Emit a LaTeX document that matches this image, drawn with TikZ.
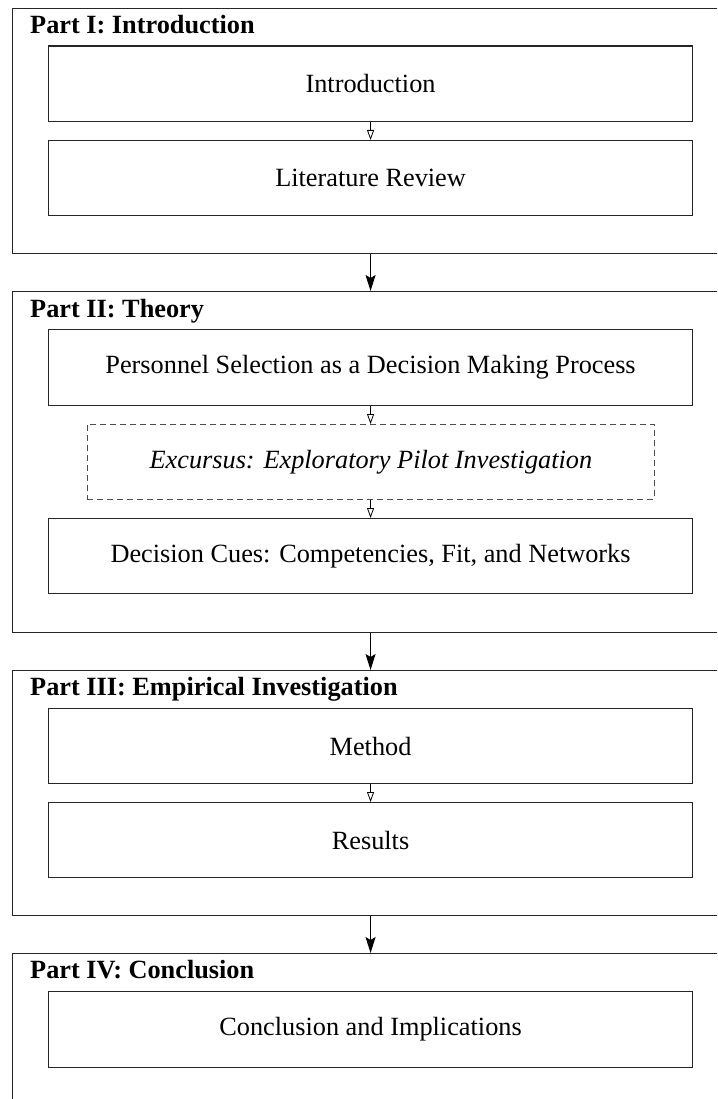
\documentclass[tikz,border=0pt]{standalone}
\usepackage{fontspec}
\setmainfont{Liberation Serif}
\usetikzlibrary{arrows.meta,calc}
\begin{document}
\begin{tikzpicture}[x=1pt,y=-1pt,
  txt/.style={font=\fontsize{26.3}{31}\selectfont},
  partframe/.style={draw=black!85, line width=1.2pt, anchor=north west, inner sep=0pt},
  parttitle/.style={txt, font=\fontsize{26.3}{31}\selectfont\bfseries, anchor=base west, inner sep=0pt},
  chapbox/.style={txt, draw=black!85, line width=1.1pt, anchor=north west, minimum width=644pt, inner sep=0pt},
  excbox/.style={txt, draw=black!70, line width=0.8pt, dash pattern=on 6pt off 4pt, anchor=north west, minimum width=567pt, inner sep=0pt},
  innerarrow/.style={-{Triangle[open,length=10pt,width=7pt]}, line width=0.8pt},
  partarrow/.style={-{Stealth[length=16pt,width=10pt,inset=3pt]}, line width=1.1pt}
]
\useasboundingbox[clip] (0,0) rectangle (717,1099);

% Part frames
\node[partframe, minimum width=728pt, minimum height=245pt] (p1) at (12,8) {};
\node[partframe, minimum width=728pt, minimum height=341pt] (p2) at (12,291) {};
\node[partframe, minimum width=728pt, minimum height=245pt] (p3) at (12,670) {};
\node[partframe, minimum width=728pt, minimum height=200pt] (p4) at (12,953) {};

% Part titles
\node[parttitle] (t1) at (30,34) {Part I: Introduction};
\node[parttitle] (t2) at (30,317) {Part II: Theory};
\node[parttitle] (t3) at (30,695) {Part III: Empirical Investigation};
\node[parttitle] (t4) at (30,978) {Part IV: Conclusion};

% Chapter boxes
\node[chapbox, minimum height=75.5pt] (intro) at (48,45.5) {Introduction};
\node[chapbox, minimum height=75pt] (lit) at (48,140) {Literature Review};
\node[chapbox, minimum height=76pt] (pers) at (48,329) {Personnel Selection as a Decision Making Process};
\node[excbox, minimum height=75pt] (exc) at (87,424) {\itshape Excursus: Exploratory Pilot Investigation};
\node[chapbox, minimum height=75pt] (cues) at (48,518) {Decision Cues: Competencies, Fit, and Networks};
\node[chapbox, minimum height=75pt] (meth) at (48,708) {Method};
\node[chapbox, minimum height=75pt] (res) at (48,802) {Results};
\node[chapbox, minimum height=76pt] (concl) at (48,991) {Conclusion and Implications};

% Arrows inside parts
\draw[innerarrow] (intro.south) -- (lit.north);
\draw[innerarrow] (pers.south) -- (exc.north -| pers.south);
\draw[innerarrow] (exc.south -| pers.south) -- (cues.north);
\draw[innerarrow] (meth.south) -- (res.north);

% Arrows between parts
\draw[partarrow] (p1.south -| intro.south) -- (p2.north -| intro.south);
\draw[partarrow] (p2.south -| intro.south) -- (p3.north -| intro.south);
\draw[partarrow] (p3.south -| intro.south) -- (p4.north -| intro.south);
\end{tikzpicture}
\end{document}
